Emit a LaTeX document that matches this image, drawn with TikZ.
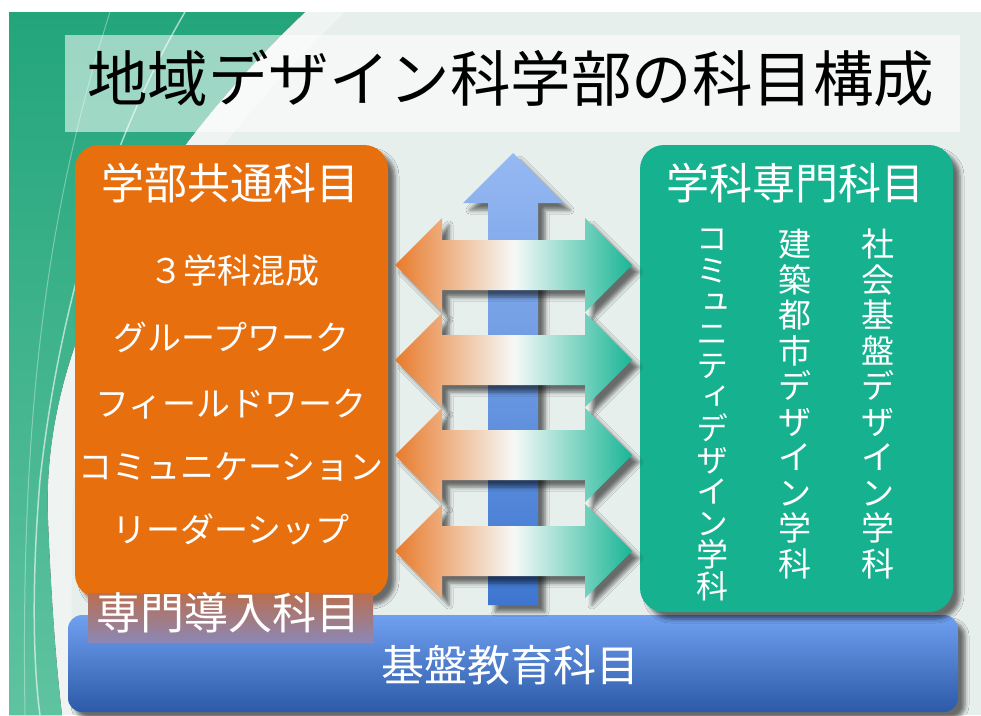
\documentclass[tikz,border=0pt]{standalone}
\usepackage{fontspec}
\setmainfont{Noto Sans CJK JP}
\newfontfamily\vertfont[RawFeature=+vert]{Noto Sans CJK JP}
\usetikzlibrary{shadows.blur}
\definecolor{bg}{RGB}{231,239,237}
\definecolor{dgreen}{RGB}{35,165,123}
\definecolor{lgreen}{RGB}{95,195,160}
\definecolor{orangebox}{RGB}{232,111,14}
\definecolor{tealbox}{RGB}{22,178,143}
\definecolor{arrOr}{RGB}{232,122,42}
\definecolor{arrTe}{RGB}{26,182,150}
\definecolor{arrMid}{RGB}{246,249,248}
\definecolor{blueTop}{RGB}{112,160,240}
\definecolor{blueBot}{RGB}{44,90,168}
\definecolor{vaTop}{RGB}{150,185,242}
\definecolor{vaBot}{RGB}{62,118,208}
\definecolor{introTop}{RGB}{185,110,80}
\definecolor{introBot}{RGB}{140,135,180}
\begin{document}
\begin{tikzpicture}[x=1pt,y=-1pt,
  shad/.style={blur shadow={shadow xshift=7pt,shadow yshift=-7pt,shadow blur radius=4pt,shadow opacity=55}},
  bigbox/.style={shad, rounded corners=24pt, inner sep=0pt, draw=none},
  wtext/.style={text=white, inner sep=0pt},
  itemtext/.style={wtext, font=\fontsize{34}{40}\selectfont},
  headtext/.style={wtext, font=\fontsize{43}{50}\selectfont},
  verttext/.style={wtext, align=center, anchor=north},
  harrow/.style={shad, left color=arrOr, right color=arrTe, middle color=arrMid}
]
\useasboundingbox (0,0) rectangle (981,715);
\fill[white] (0,0) rectangle (981,715);
\fill[bg] (9,12) rectangle (981,715);
% green decorative area
\fill[top color=dgreen, bottom color=lgreen] (9,12) -- (305,12) .. controls (160,150) and (40,330) .. (48,520) .. controls (52,620) and (58,680) .. (62,715) -- (9,715) -- cycle;
\fill[white, opacity=0.35] (305,12) -- (345,12) .. controls (200,150) and (75,330) .. (72,520) .. controls (72,620) and (70,680) .. (72,715) -- (62,715) .. controls (58,680) and (52,620) .. (48,520) .. controls (40,330) and (160,150) .. (305,12) -- cycle;
\draw[white, opacity=0.6, line width=1.5pt] (185,12) .. controls (110,140) and (60,300) .. (40,480) .. controls (30,600) and (35,680) .. (40,715);
\draw[white, opacity=0.35, line width=1pt] (110,12) .. controls (50,200) and (20,400) .. (25,715);
% title
\node[fill=white, fill opacity=0.55, minimum width=895pt, minimum height=97pt, inner sep=0pt] (titlebox) at (512.5,83.5) {};
\node[anchor=west, inner sep=0pt, font=\fontsize{60.5}{72}\selectfont] (title) at (87,78) {地域デザイン科学部の科目構成};
% base
\node[shad, rounded corners=14pt, inner sep=0pt, top color=blueTop, bottom color=blueBot, minimum width=890pt, minimum height=97pt] (basebox) at (513,663.5) {};
% boxes
\node[bigbox, fill=orangebox, minimum width=313pt, minimum height=453pt] (common) at (231.5,371.5) {};
\node[bigbox, fill=tealbox, minimum width=313pt, minimum height=467pt] (dept) at (796.5,378.5) {};
\node[inner sep=0pt, top color=introTop, bottom color=introBot, minimum width=285pt, minimum height=49pt] (introbox) at (230.5,617.5) {};
% vertical arrow
\path[shad, top color=vaTop, bottom color=vaBot] (513,153) -- (563,203) -- (538,203) -- (538,605) -- (488,605) -- (488,203) -- (463,203) -- cycle;
% horizontal double arrows
\foreach \c in {265,360,455,551}{
  \path[harrow] (395,\c) -- (442,\c-47) -- (442,\c-25) -- (585,\c-25) -- (585,\c-47) -- (632,\c) -- (585,\c+47) -- (585,\c+25) -- (442,\c+25) -- (442,\c+47) -- cycle;
}
% texts
\node[headtext] (hdrL) at (230,183) {学部共通科目};
\node[itemtext] (it1) at (234,271) {３学科混成};
\node[itemtext] (it2) at (231,337) {グループワーク};
\node[itemtext] (it3) at (231,404) {フィールドワーク};
\node[itemtext] (it4) at (231,467) {コミュニケーション};
\node[itemtext] (it5) at (231,529) {リーダーシップ};
\node[headtext] (hdrR) at (795,183) {学科専門科目};
\node[verttext, font=\vertfont\fontsize{32}{31.6}\selectfont] (dep1) at (712,229) {コ\\ミ\\ュ\\ニ\\テ\\ィ\\デ\\ザ\\イ\\ン\\学\\科};
\node[verttext, font=\fontsize{33}{35.5}\selectfont] (dep2) at (795,229) {建\\築\\都\\市\\デ\\ザ\\イ\\ン\\学\\科};
\node[verttext, font=\fontsize{33}{35.5}\selectfont] (dep3) at (878,229) {社\\会\\基\\盤\\デ\\ザ\\イ\\ン\\学\\科};
\node[wtext, font=\fontsize{44}{50}\selectfont] (intro) at (228,613) {専門導入科目};
\node[headtext] (base) at (510,665) {基盤教育科目};
\end{tikzpicture}
\end{document}
